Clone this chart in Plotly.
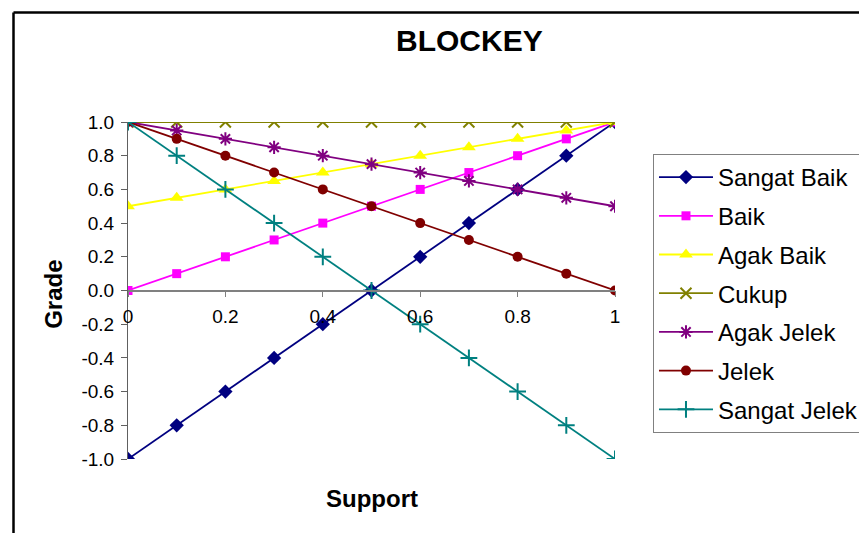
import plotly.graph_objects as go

support = [0, 0.1, 0.2, 0.3, 0.4, 0.5, 0.6, 0.7, 0.8, 0.9, 1]

sangat_baik = [-1.0, -0.8, -0.6, -0.4, -0.2, 0.0, 0.2, 0.4, 0.6, 0.8, 1.0]
baik = [0.0, 0.1, 0.2, 0.3, 0.4, 0.5, 0.6, 0.7, 0.8, 0.9, 1.0]
agak_baik = [0.5, 0.55, 0.6, 0.65, 0.7, 0.75, 0.8, 0.85, 0.9, 0.95, 1.0]
cukup = [1.0, 1.0, 1.0, 1.0, 1.0, 1.0, 1.0, 1.0, 1.0, 1.0, 1.0]
agak_jelek = [1.0, 0.95, 0.9, 0.85, 0.8, 0.75, 0.7, 0.65, 0.6, 0.55, 0.5]
jelek = [1.0, 0.9, 0.8, 0.7, 0.6, 0.5, 0.4, 0.3, 0.2, 0.1, 0.0]
sangat_jelek = [1.0, 0.8, 0.6, 0.4, 0.2, 0.0, -0.2, -0.4, -0.6, -0.8, -1.0]

x_ticks = [0, 0.2, 0.4, 0.6, 0.8, 1]
x_tick_labels = ["0", "0.2", "0.4", "0.6", "0.8", "1"]
y_ticks = [-1.0, -0.8, -0.6, -0.4, -0.2, 0.0, 0.2, 0.4, 0.6, 0.8, 1.0]
y_tick_labels = ["-1.0", "-0.8", "-0.6", "-0.4", "-0.2", "0.0", "0.2", "0.4", "0.6", "0.8", "1.0"]

FONT = "Liberation Sans, Arial, sans-serif"

series = [
    ("Sangat Baik", sangat_baik, "#000080", "diamond", 11, 0),
    ("Baik", baik, "#FF00FF", "square", 9, 0),
    ("Agak Baik", agak_baik, "#FFFF00", "triangle-up", 12, 0),
    ("Cukup", cukup, "#808000", "x-thin-open", 11, 2),
    ("Agak Jelek", agak_jelek, "#800080", "asterisk-open", 11, 2),
    ("Jelek", jelek, "#800000", "circle", 10, 0),
    ("Sangat Jelek", sangat_jelek, "#008080", "cross-thin-open", 12, 2),
]

fig = go.Figure()
for name, vals, color, sym, size, lw in series:
    fig.add_trace(go.Scatter(
        x=support, y=vals, name=name, mode="lines+markers",
        legendgroup=name,
        line=dict(color=color, width=1.8),
        marker=dict(symbol=sym, size=size, color=color,
                    line=dict(color=color, width=lw)),
    ))

fig.update_layout(
    width=859, height=533,
    margin=dict(l=128, r=244, t=122, b=74, autoexpand=False),
    paper_bgcolor="white", plot_bgcolor="white",
    font=dict(family=FONT, color="black", size=19),
    showlegend=True,
    legend=dict(
        x=1.078, y=0.905, xanchor="left", yanchor="top",
        bordercolor="#808080", borderwidth=1,
        font=dict(family=FONT, size=24, color="black"),
        traceorder="grouped", tracegroupgap=4.5,
        itemwidth=54, entrywidth=240,
        bgcolor="white",
    ),
    xaxis=dict(
        range=[0, 1], tickvals=x_ticks, ticktext=x_tick_labels,
        anchor="free", position=0.5,
        showline=True, linecolor="#808080", linewidth=1.5,
        ticks="outside", ticklen=6, tickcolor="#808080", tickwidth=1,
        ticklabelstandoff=3,
        showgrid=False, zeroline=False,
        tickfont=dict(family=FONT, size=19, color="black"),
    ),
    yaxis=dict(
        range=[-1, 1], tickvals=y_ticks, ticktext=y_tick_labels,
        showline=True, linecolor="#606060", linewidth=1,
        ticks="outside", ticklen=6, tickcolor="#606060", tickwidth=1,
        ticklabelstandoff=3,
        showgrid=False, zeroline=False,
        tickfont=dict(family=FONT, size=19, color="black"),
    ),
    annotations=[
        dict(text="<b>BLOCKEY</b>", xref="paper", yref="paper",
             x=0.702, y=1.243, xanchor="center", yanchor="middle",
             showarrow=False, font=dict(family=FONT, size=30, color="black")),
        dict(text="<b>Support</b>", xref="paper", yref="paper",
             x=0.5, y=-0.116, xanchor="center", yanchor="middle",
             showarrow=False, font=dict(family=FONT, size=24, color="black")),
        dict(text="<b>Grade</b>", xref="paper", yref="paper",
             x=-0.152, y=0.49, xanchor="center", yanchor="middle",
             textangle=-90,
             showarrow=False, font=dict(family=FONT, size=24, color="black")),
    ],
    shapes=[
        dict(type="line", xref="paper", yref="paper",
             x0=(13.5 - 128) / 487, x1=(13.5 - 128) / 487,
             y0=1 + (122 - 12.5) / 337, y1=-0.5,
             line=dict(color="black", width=2.5)),
        dict(type="line", xref="paper", yref="paper",
             x0=(13.5 - 128) / 487, x1=1.6,
             y0=1 + (122 - 12.5) / 337, y1=1 + (122 - 12.5) / 337,
             line=dict(color="black", width=2.5)),
    ],
)

fig.write_html("out.html", config={"displayModeBar": False},
               post_script="document.body.style.margin='0';document.body.style.overflow='hidden';")
